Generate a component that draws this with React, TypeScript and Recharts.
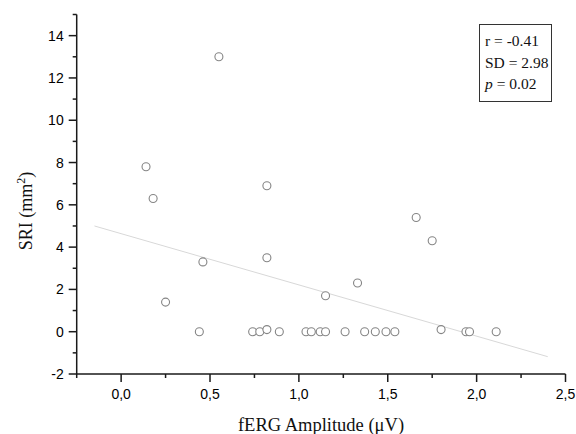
import { ScatterChart, Scatter, XAxis, YAxis, ReferenceLine } from "recharts";

// fERG amplitude (µV) vs SRI (mm²), one entry per eye
const fergAmplitude = [
  0.55, 0.14, 0.18, 0.82, 0.46, 0.25, 0.44, 0.82, 1.15, 0.74, 0.78, 0.82, 0.89,
  1.04, 1.07, 1.12, 1.15, 1.66, 1.75, 1.33, 1.26, 1.37, 1.43, 1.49, 1.54, 1.8,
  1.94, 1.96, 2.11,
];
const sriArea = [
  13.0, 7.8, 6.3, 6.9, 3.3, 1.4, 0, 3.5, 1.7, 0, 0, 0.1, 0, 0, 0, 0, 0, 5.4, 4.3,
  2.3, 0, 0, 0, 0, 0, 0.1, 0, 0, 0,
];

// linear fit end points
const fitX = [-0.15, 2.4];
const fitY = [5.0, -1.18];

const xTicks = [-0.25, 0, 0.25, 0.5, 0.75, 1, 1.25, 1.5, 1.75, 2, 2.25, 2.5];
const yTicks = [-2, -1, 0, 1, 2, 3, 4, 5, 6, 7, 8, 9, 10, 11, 12, 13, 14, 15];

const stats = [
  { name: "r", value: "-0.41", italic: false },
  { name: "SD", value: "2.98", italic: false },
  { name: "p", value: "0.02", italic: true },
];

const points = fergAmplitude.map((x, i) => ({ x, y: sriArea[i] }));

const AXIS = "#1a1a1a";
const SANS = "'Liberation Sans', Arial, sans-serif";
const SERIF = "'Liberation Serif', 'Times New Roman', serif";

function YTick({ x, y, payload }: any) {
  const v = payload.value as number;
  const major = v % 2 === 0;
  return (
    <g>
      <line x1={x - (major ? 8 : 4)} x2={x} y1={y} y2={y} stroke={AXIS} strokeWidth={1.5} />
      {major && (
        <text x={x - 13} y={y} dy={5} textAnchor="end" fontFamily={SANS} fontSize={14} fill="#000">
          {v}
        </text>
      )}
    </g>
  );
}

function XTick({ x, y, payload }: any) {
  const v = payload.value as number;
  const major = Math.abs(v * 2 - Math.round(v * 2)) < 1e-6;
  return (
    <g>
      <line x1={x} x2={x} y1={y} y2={y + (major ? 8 : 4)} stroke={AXIS} strokeWidth={1.5} />
      {major && (
        <text x={x} y={y + 25} textAnchor="middle" fontFamily={SANS} fontSize={14} fill="#000">
          {v.toFixed(1).replace(".", ",")}
        </text>
      )}
    </g>
  );
}

export default function App() {
  return (
    <div style={{ position: "absolute", left: 0, top: 0, width: 576, height: 434, background: "#fff" }}>
      <ScatterChart width={576} height={434} margin={{ top: 14.5, right: 10.5, left: 0, bottom: 0 }}>
        <XAxis
          type="number"
          dataKey="x"
          domain={[-0.25, 2.5]}
          ticks={xTicks}
          interval={0}
          height={60}
          tickSize={0}
          tickMargin={0}
          tickLine={false}
          axisLine={{ stroke: AXIS, strokeWidth: 1.5 }}
          tick={<XTick />}
        />
        <YAxis
          type="number"
          dataKey="y"
          domain={[-2, 15]}
          ticks={yTicks}
          interval={0}
          width={76.7}
          tickSize={0}
          tickMargin={0}
          tickLine={false}
          axisLine={{ stroke: AXIS, strokeWidth: 1.5 }}
          tick={<YTick />}
        />
        <ReferenceLine
          segment={[
            { x: fitX[0], y: fitY[0] },
            { x: fitX[1], y: fitY[1] },
          ]}
          stroke="#d8d8d8"
          strokeWidth={1}
        />
        <Scatter
          data={points}
          isAnimationActive={false}
          shape={(p: any) => (
            <circle cx={p.cx} cy={p.cy} r={4} fill="#fff" stroke="#858585" strokeWidth={1.1} />
          )}
        />
      </ScatterChart>

      {/* y axis title */}
      <div
        style={{
          position: "absolute",
          left: 25,
          top: 211,
          transform: "translate(-50%, -50%) rotate(-90deg)",
          whiteSpace: "nowrap",
          fontFamily: SERIF,
          fontSize: 18,
          color: "#111",
        }}
      >
        SRI (mm<sup style={{ fontSize: 12 }}>2</sup>)
      </div>

      {/* x axis title */}
      <div
        style={{
          position: "absolute",
          left: 321,
          top: 425,
          transform: "translate(-50%, -50%)",
          whiteSpace: "nowrap",
          fontFamily: SERIF,
          fontSize: 18.5,
          color: "#111",
        }}
      >
        fERG Amplitude (μV)
      </div>

      {/* stats box */}
      <div
        style={{
          position: "absolute",
          left: 479,
          top: 24,
          width: 73,
          height: 78,
          border: "1px solid #333",
          paddingLeft: 5,
          paddingTop: 5,
          boxSizing: "border-box",
          fontFamily: SERIF,
          fontSize: 15.5,
          lineHeight: "21.5px",
          color: "#111",
          whiteSpace: "nowrap",
        }}
      >
        {stats.map((s) => (
          <div key={s.name}>
            {s.italic ? <i>{s.name}</i> : s.name} = {s.value}
          </div>
        ))}
      </div>
    </div>
  );
}
